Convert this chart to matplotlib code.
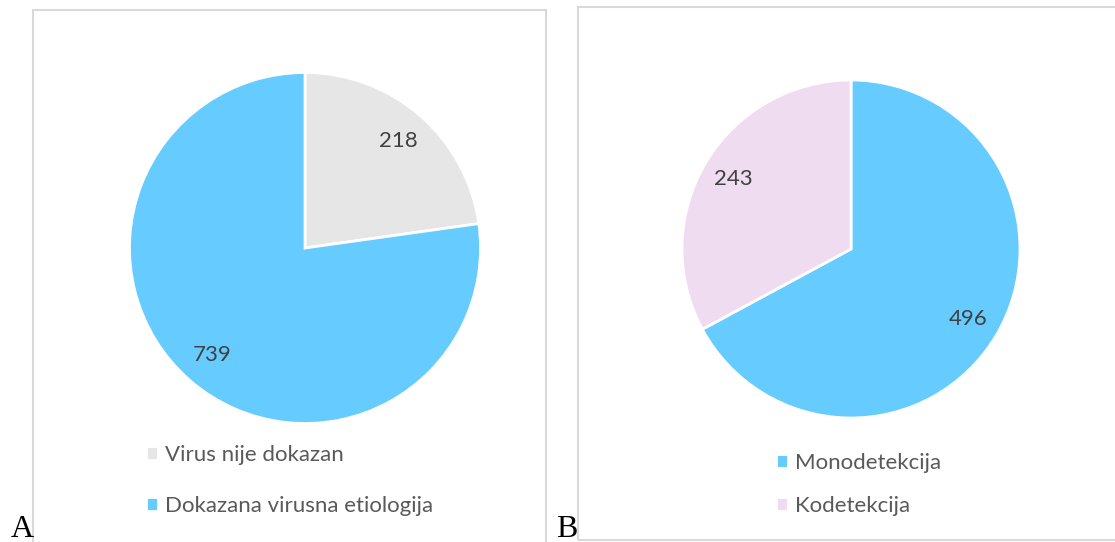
import matplotlib.pyplot as plt
from matplotlib.patches import Rectangle

# panel A data
labels_a = ['Virus nije dokazan', 'Dokazana virusna etiologija']
values_a = [218, 739]
colors_a = ['#E6E6E6', '#66CCFF']

# panel B data
labels_b = ['Monodetekcija', 'Kodetekcija']
values_b = [496, 243]
colors_b = ['#66CCFF', '#F0DCF0']

W, H = 1115, 542
plt.rcParams['font.family'] = ['Lato', 'DejaVu Sans']
fig = plt.figure(figsize=(W / 100, H / 100), dpi=100)


def fx(px):
    return px / W


def fy(py):
    return 1 - py / H


# panel frames
fig.patches.append(Rectangle((fx(33), fy(560)), fx(546 - 33), 550 / H,
                             transform=fig.transFigure, fill=False,
                             edgecolor='#D9D9D9', lw=1.5))
fig.patches.append(Rectangle((fx(578), fy(540)), fx(560), 533 / H,
                             transform=fig.transFigure, fill=False,
                             edgecolor='#D9D9D9', lw=1.5))


def draw_pie(cx, cy, r, values, colors, labels, leg_x, leg_y, spacing):
    ax = fig.add_axes([fx(cx - r), fy(cy + r), fx(2 * r), 2 * r / H])
    wedges, texts = ax.pie(values, colors=colors, startangle=90, counterclock=False,
                           labels=[str(v) for v in values], labeldistance=0.81,
                           wedgeprops=dict(edgecolor='white', linewidth=2),
                           textprops=dict(color='#404040', fontsize=16))
    for t in texts:
        t.set_ha('center')
        t.set_va('center')
    ax.set_xlim(-1, 1)
    ax.set_ylim(-1, 1)
    ax.set_aspect('equal')
    fig.legend(wedges, labels, loc='upper left',
               bbox_to_anchor=(fx(leg_x), fy(leg_y)), frameon=False,
               fontsize=16, labelcolor='#595959', handlelength=0.55, handleheight=0.55,
               handletextpad=0.3, labelspacing=spacing, borderpad=0, borderaxespad=0)
    return ax


draw_pie(305, 248, 175.5, values_a, colors_a, labels_a, 146, 445, 1.38)
draw_pie(851, 249, 169, values_b, colors_b, labels_b, 776, 453, 1.02)

fig.text(fx(11), fy(537), 'A', family='Liberation Serif', fontsize=23, va='baseline')
fig.text(fx(556), fy(537), 'B', family='Liberation Serif', fontsize=23, va='baseline')

fig.savefig('out.png', dpi=100)
